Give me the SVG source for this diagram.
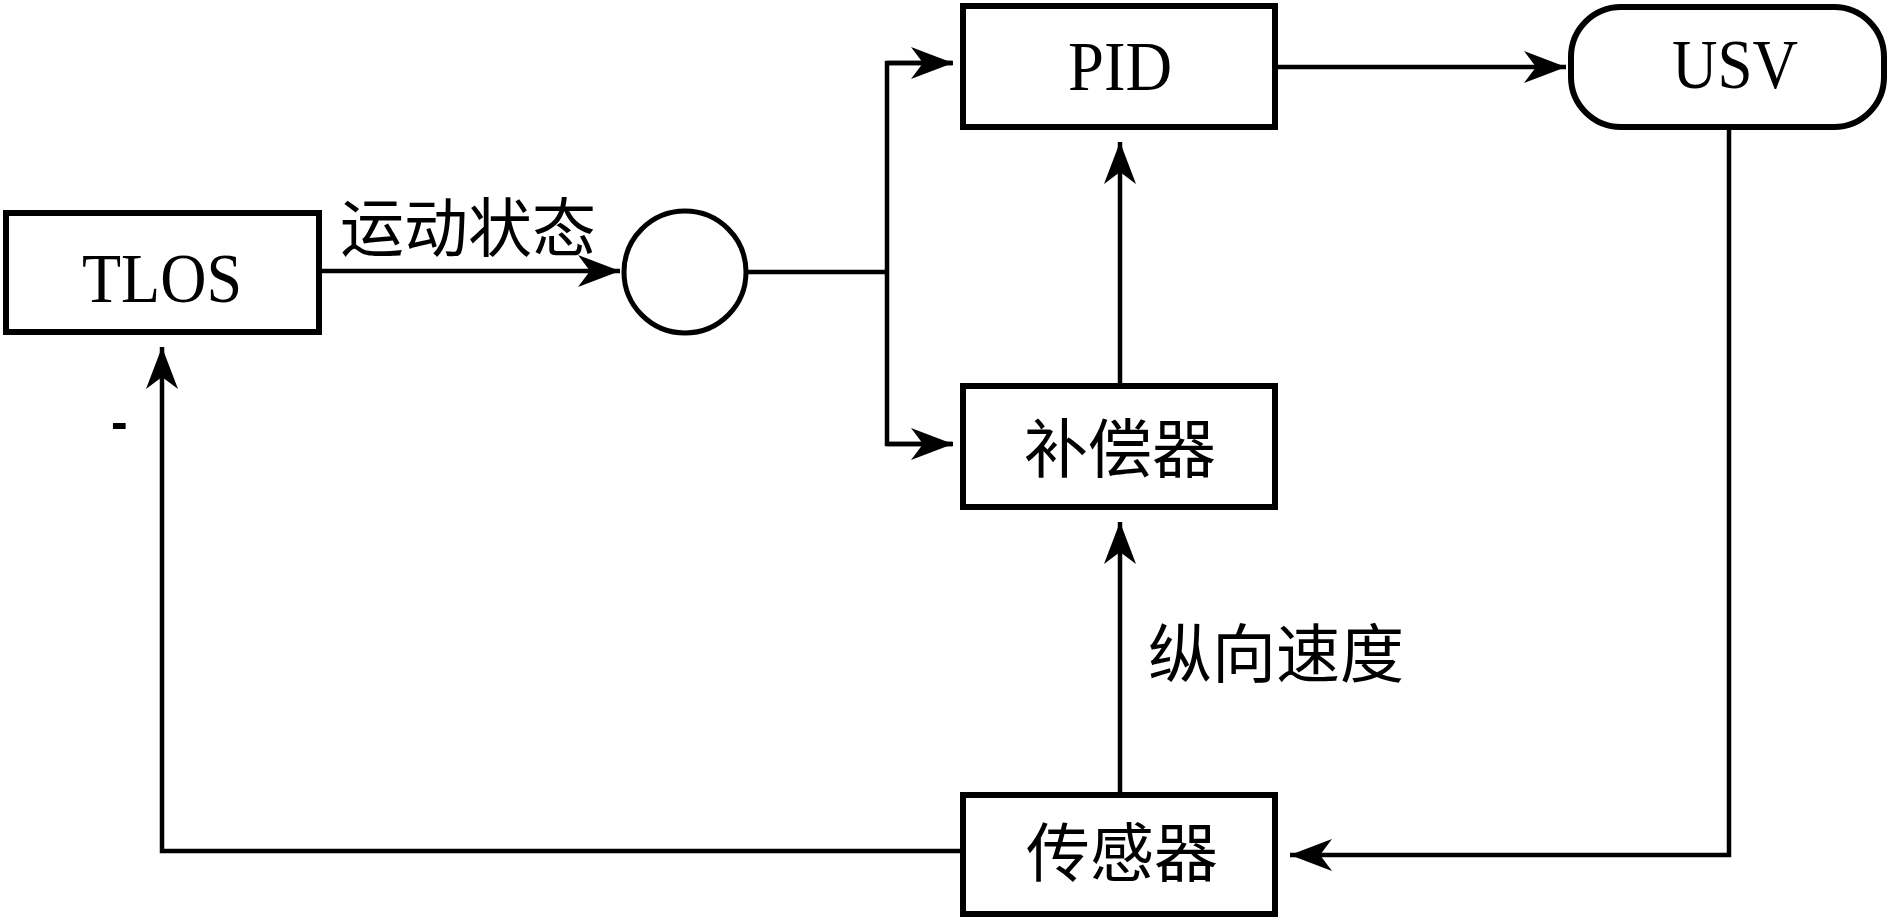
<svg xmlns="http://www.w3.org/2000/svg" width="1890" height="924" viewBox="0 0 1890 924">
  <style>
    .box { fill: #ffffff; stroke: #000000; stroke-width: 6; }
    .lbl { font-family: "Liberation Serif", "Times New Roman", serif; font-size: 69px; fill: #000000; }
    .cjk { font-family: "Noto Sans CJK SC", "Noto Sans CJK TC", sans-serif; font-size: 64px; fill: #000000; }
    .conn { fill: none; stroke: #000000; stroke-width: 4.5; stroke-linejoin: miter; }
  </style>
  <defs>
    <marker id="arr" viewBox="0 0 42 32" refX="42" refY="16" markerWidth="42" markerHeight="32" markerUnits="userSpaceOnUse" orient="auto">
      <path d="M0,0 L42,16 L0,32 L12,16 Z" fill="#000000"/>
    </marker>
  </defs>
  <rect width="1890" height="924" fill="#ffffff"/>

  <g id="connectors">
    <path class="conn" d="M322,271 L620,271" marker-end="url(#arr)"/>
    <path class="conn" d="M747,272 L887,272"/>
    <path class="conn" d="M952,63 L887,63 L887,444 L952,444"/>
    <path class="conn" d="M887,63 L953,63" marker-end="url(#arr)"/>
    <path class="conn" d="M887,444 L953,444" marker-end="url(#arr)"/>
    <path class="conn" d="M1278,67 L1566,67" marker-end="url(#arr)"/>
    <path class="conn" d="M1120,383 L1120,142" marker-end="url(#arr)"/>
    <path class="conn" d="M1120,792 L1120,522" marker-end="url(#arr)"/>
    <path class="conn" d="M1729,130 L1729,855 L1290,855" marker-end="url(#arr)"/>
    <path class="conn" d="M960,851 L162,851 L162,347" marker-end="url(#arr)"/>
  </g>

  <g id="tlos">
    <rect class="box" x="6" y="213" width="313" height="119"/>
    <text class="lbl" x="82" y="302" textLength="160" lengthAdjust="spacingAndGlyphs">TLOS</text>
  </g>
  <g id="sum">
    <circle cx="685" cy="272" r="61" fill="#ffffff" stroke="#000000" stroke-width="5"/>
  </g>
  <g id="pid">
    <rect class="box" x="963" y="6" width="312" height="121"/>
    <text class="lbl" x="1068" y="90" textLength="104" lengthAdjust="spacingAndGlyphs">PID</text>
  </g>
  <g id="usv">
    <rect class="box" x="1571" y="7" width="313" height="120" rx="50" ry="50"/>
    <text class="lbl" x="1672" y="88" textLength="126" lengthAdjust="spacingAndGlyphs">USV</text>
  </g>
  <g id="compensator">
    <rect class="box" x="963" y="386" width="312" height="121"/>
    <text class="cjk" x="1120" y="472" text-anchor="middle">补偿器</text>
  </g>
  <g id="sensor">
    <rect class="box" x="963" y="795" width="312" height="119"/>
    <text class="cjk" x="1122" y="876" text-anchor="middle">传感器</text>
  </g>

  <g id="labels">
    <text class="cjk" x="340" y="251">运动状态</text>
    <text class="cjk" x="1148" y="677">纵向速度</text>
    <text x="111" y="439" font-family="Liberation Sans, Arial, sans-serif" font-size="50" font-weight="bold" fill="#000000">-</text>
  </g>
</svg>
